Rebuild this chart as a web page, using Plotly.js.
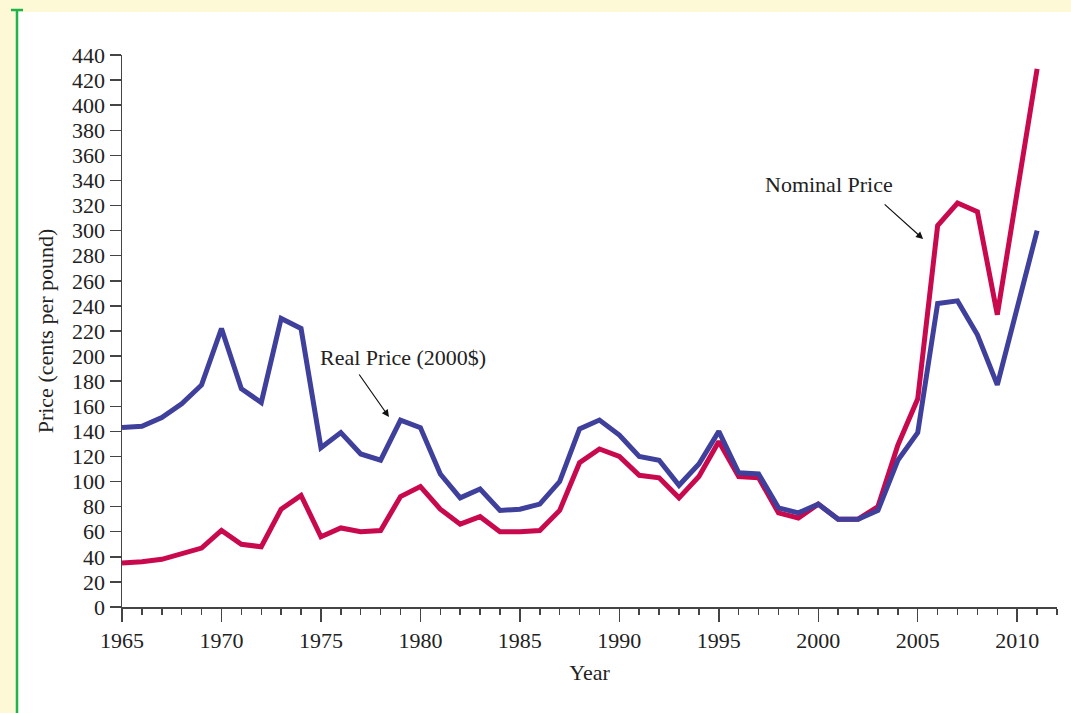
<!DOCTYPE html>
<html>
<head>
<meta charset="utf-8">
<script src="https://cdn.plot.ly/plotly-3.0.1.min.js"></script>
<style>html,body{margin:0;padding:0;background:#fdf9d6;}#chart{width:1071px;height:713px;}</style>
</head>
<body>
<div id="chart"></div>
<script>
const years = [1965,1966,1967,1968,1969,1970,1971,1972,1973,1974,1975,1976,1977,1978,1979,1980,1981,1982,1983,1984,1985,1986,1987,1988,1989,1990,1991,1992,1993,1994,1995,1996,1997,1998,1999,2000,2001,2002,2003,2004,2005,2006,2007,2008,2009,2010,2011];
const realPrice = [143,144,151,162,177,222,174,163,230,222,127,139,122,117,149,143,106,87,94,77,78,82,100,142,149,137,120,117,97,114,140,107,106,79,75,82,70,70,77,117,139,242,244,217,177,240,300];
const nominalPrice = [35,36,38,42,47,61,50,48,78,89,56,63,60,61,88,96,78,66,72,60,60,61,77,115,126,120,105,103,87,104,132,104,103,75,71,82,70,70,80,129,166,304,322,315,233,331,429];
const yTicks = [0,20,40,60,80,100,120,140,160,180,200,220,240,260,280,300,320,340,360,380,400,420,440];
const xTicks = [1965,1970,1975,1980,1985,1990,1995,2000,2005,2010];

const FONT = 'Liberation Serif, Times New Roman, serif';
const FS = 22;
const BLUE = '#3f3f9c';
const RED = '#c9094d';

const traces = [
  {x: years, y: nominalPrice, type: 'scatter', mode: 'lines', name: 'Nominal Price',
   line: {color: RED, width: 5}},
  {x: years, y: realPrice, type: 'scatter', mode: 'lines', name: 'Real Price (2000$)',
   line: {color: BLUE, width: 5}}
];

const layout = {
  width: 1071, height: 713,
  margin: {l: 122, r: 14, t: 55, b: 106},
  paper_bgcolor: '#fdf9d6',
  plot_bgcolor: '#ffffff',
  showlegend: false,
  hovermode: false,
  font: {family: FONT, size: FS, color: '#222'},
  xaxis: {
    range: [1965, 2012], tickvals: xTicks, ticktext: xTicks.map(String),
    ticks: 'outside', ticklen: 13, tickwidth: 1.5, tickcolor: '#444',
    showline: true, linecolor: '#444', linewidth: 1.5, showgrid: false, zeroline: false,
    minor: {dtick: 1, tick0: 1965, ticks: 'outside', ticklen: 6, tickwidth: 1.5, tickcolor: '#444', showgrid: false},
    tickfont: {family: FONT, size: FS, color: '#222'},
    title: {text: 'Year', font: {family: FONT, size: FS, color: '#222'}, standoff: 12},
    fixedrange: true
  },
  yaxis: {
    range: [0, 440], tickvals: yTicks, ticktext: yTicks.map(String),
    ticks: 'outside', ticklen: 11, tickwidth: 1.5, tickcolor: '#444',
    showline: true, linecolor: '#444', linewidth: 1.5, showgrid: false, zeroline: false,
    tickfont: {family: FONT, size: FS, color: '#222'},
    title: {text: 'Price (cents per pound)', font: {family: FONT, size: FS, color: '#222'}, standoff: 12},
    fixedrange: true
  },
  shapes: [
    {type: 'rect', xref: 'paper', yref: 'paper', x0: -0.1112, x1: 1.02, y0: -0.2, y1: 1.0779,
     fillcolor: '#ffffff', line: {width: 0}, layer: 'below'},
    {type: 'line', xref: 'paper', yref: 'paper', x0: -0.1123, x1: -0.1123, y0: -0.2, y1: 1.0815,
     line: {color: '#1db54b', width: 2.5}},
    {type: 'line', xref: 'paper', yref: 'paper', x0: -0.1187, x1: -0.1059, y0: 1.0815, y1: 1.0815,
     line: {color: '#1db54b', width: 2.5}}
  ],
  annotations: [
    {x: 1979.15, y: 198.5, xref: 'x', yref: 'y', text: 'Real Price (2000$)', showarrow: false,
     font: {family: FONT, size: FS, color: '#222'}},
    {x: 1978.42, y: 151.4, ax: 1976.87, ay: 186.5, xref: 'x', yref: 'y', axref: 'x', ayref: 'y',
     text: '', showarrow: true, arrowhead: 2, arrowsize: 1.2, arrowwidth: 1.2, arrowcolor: '#111'},
    {x: 2000.55, y: 336.5, xref: 'x', yref: 'y', text: 'Nominal Price', showarrow: false,
     font: {family: FONT, size: FS, color: '#222'}},
    {x: 2005.27, y: 293.3, ax: 2003.26, ay: 322, xref: 'x', yref: 'y', axref: 'x', ayref: 'y',
     text: '', showarrow: true, arrowhead: 2, arrowsize: 1.2, arrowwidth: 1.2, arrowcolor: '#111'}
  ]
};

Plotly.newPlot('chart', traces, layout, {displayModeBar: false, staticPlot: true});
</script>
</body>
</html>
